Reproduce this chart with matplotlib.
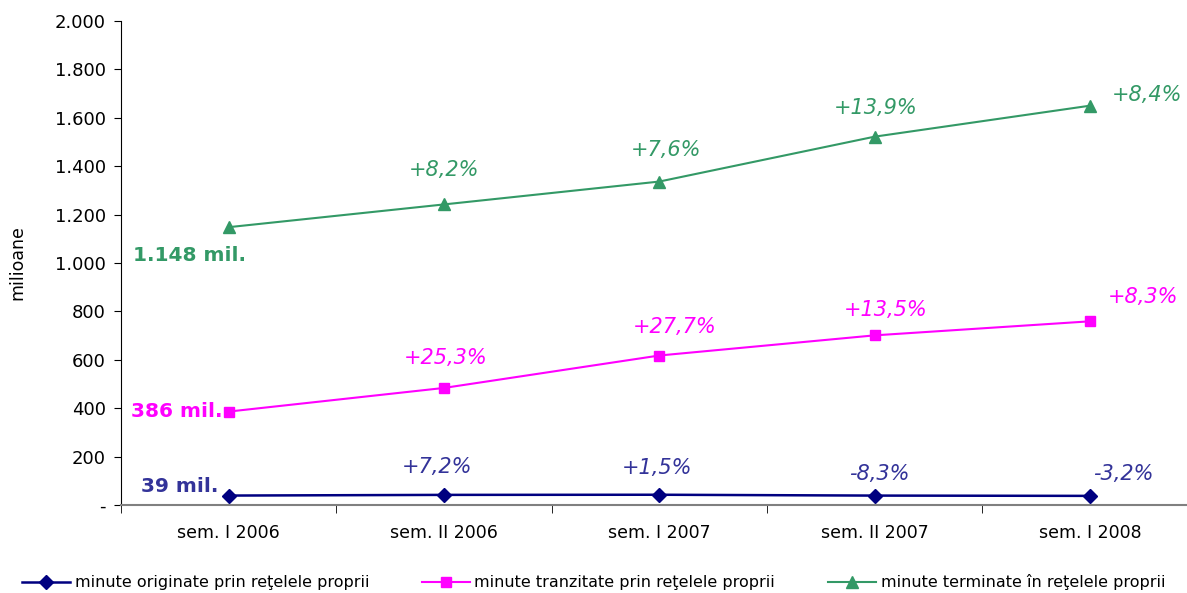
import matplotlib
matplotlib.use("Agg")
import matplotlib.pyplot as plt

categories = ["sem. I 2006", "sem. II 2006", "sem. I 2007", "sem. II 2007", "sem. I 2008"]

originate = [39, 41.8, 42.4, 38.9, 37.7]
tranzitate = [386, 483.7, 617.7, 701, 759]
terminate = [1148, 1242, 1336.5, 1522, 1650]

lbl_originate = ["39 mil.", "+7,2%", "+1,5%", "-8,3%", "-3,2%"]
lbl_tranzitate = ["386 mil.", "+25,3%", "+27,7%", "+13,5%", "+8,3%"]
lbl_terminate = ["1.148 mil.", "+8,2%", "+7,6%", "+13,9%", "+8,4%"]

yticks = [0, 200, 400, 600, 800, 1000, 1200, 1400, 1600, 1800, 2000]
ytick_labels = ["-", "200", "400", "600", "800", "1.000", "1.200", "1.400", "1.600", "1.800", "2.000"]

legend_names = ["minute originate prin reţelele proprii",
                "minute tranzitate prin reţelele proprii",
                "minute terminate în reţelele proprii"]

c_navy = "#000080"
c_navy_txt = "#333399"
c_mag = "#FF00FF"
c_green = "#339966"

fig = plt.figure(figsize=(11.87, 5.93), dpi=100)
ax = fig.add_axes([0.1019, 0.1484, 0.907, 0.8162])

x = list(range(len(categories)))
ax.plot(x, originate, color=c_navy, marker="D", markersize=7.5, lw=1.8, label=legend_names[0])
ax.plot(x, tranzitate, color=c_mag, marker="s", markersize=7.5, lw=1.5, label=legend_names[1])
ax.plot(x, terminate, color=c_green, marker="^", markersize=8.5, lw=1.5, label=legend_names[2])

ax.set_xlim(-0.5, 4.5)
ax.set_ylim(0, 2000)
ax.set_yticks(yticks)
ax.set_yticklabels(ytick_labels, fontsize=13)
ax.set_xticks(x)
ax.set_xticklabels(categories, fontsize=12.5)
ax.set_xticks([i + 0.5 for i in range(-1, len(categories))], minor=True)
ax.tick_params(axis="x", which="major", length=0, pad=14)
ax.tick_params(axis="x", which="minor", length=6, direction="out", color="#000000")
ax.tick_params(axis="y", length=5, direction="out", pad=6)
ax.spines["top"].set_visible(False)
ax.spines["right"].set_visible(False)
ax.spines["bottom"].set_color("#808080")
ax.spines["bottom"].set_linewidth(1.5)
ax.set_ylabel("milioane", fontsize=12.5, labelpad=20)

# label offsets in pixels (dx, dy)
off_terminate = [(-39, -28), (0, 34), (7, 32), (1, 29), (57, 11)]
off_tranzitate = [(-52, 0), (2, 30), (15, 29), (11, 25), (53, 24)]
off_originate = [(-49, 9), (-7, 28), (-2, 27), (5, 22), (33, 22)]

def label(series, texts, offs, color):
    for i, (v, t, o) in enumerate(zip(series, texts, offs)):
        if i == 0:
            ax.annotate(t, (i, v), xytext=o, textcoords="offset pixels",
                        ha="center", va="center", color=color,
                        fontsize=14.5, fontweight="bold")
        else:
            ax.annotate(t, (i, v), xytext=o, textcoords="offset pixels",
                        ha="center", va="center", color=color,
                        fontsize=15, style="italic")

label(terminate, lbl_terminate, off_terminate, c_green)
label(tranzitate, lbl_tranzitate, off_tranzitate, c_mag)
label(originate, lbl_originate, off_originate, c_navy_txt)

fig.legend(loc="lower center", bbox_to_anchor=(0.5, -0.02), ncol=3, frameon=False,
           fontsize=11.5, handlelength=3.0, columnspacing=3.3, handletextpad=0.3)

fig.savefig("out.png", dpi=100)
